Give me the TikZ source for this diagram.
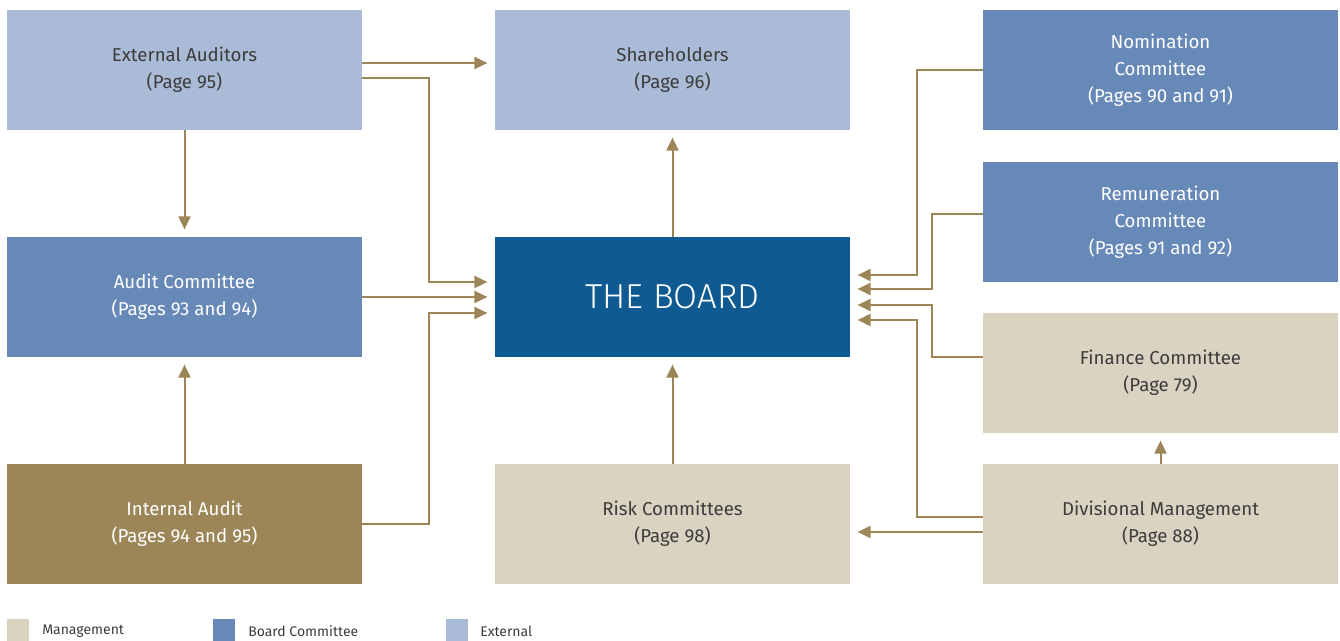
\documentclass[tikz,border=0pt]{standalone}
\usepackage{fontspec}
\setmainfont{Fira Sans}
\newfontfamily\lightfont{Fira Sans Light}
\usepackage{tikz}
\usepackage{xcolor}
\usetikzlibrary{arrows.meta, positioning, calc}
\definecolor{cExternal}{HTML}{A9BBD6}
\definecolor{cCommittee}{HTML}{6689B8}
\definecolor{cBoard}{HTML}{0F5A92}
\definecolor{cMgmt}{HTML}{DAD3C1}
\definecolor{cAudit}{HTML}{9C8658}
\definecolor{cText}{HTML}{3C3C3C}
\tikzset{
	unitbox/.style   ={rectangle, minimum width=266.25pt, minimum height=90pt, text centered, align=center, inner sep=0pt, font=\fontsize{14}{20.25}\selectfont},
	extbox/.style    ={unitbox, fill=cExternal, text=cText},
	combox/.style    ={unitbox, fill=cCommittee, text=white},
	boardbox/.style  ={unitbox, fill=cBoard, text=white, font=\lightfont\fontsize{26}{30}\selectfont},
	mgmtbox/.style   ={unitbox, fill=cMgmt, text=cText},
	auditbox/.style  ={unitbox, fill=cAudit, text=white},
	flowarrow/.style ={-{Triangle[length=9.75pt, width=9pt]}, line width=1.5pt, draw=cAudit, shorten >=5.5pt},
	% legend helpers
	keybox/.style    ={rectangle, minimum size=16.5pt, inner sep=0pt},
	keytext/.style   ={anchor=west, inner sep=0pt, text=cText, font=\fontsize{10.5}{12}\selectfont},
}
\begin{document}
\begin{tikzpicture}[x=0.75pt, y=-0.75pt]
	\useasboundingbox (0,0) rectangle (1340,641);
	% left column
	\node[extbox]   (ext)   at (184.5,70)  {External Auditors\\(Page 95)};
	\node[combox]   (aud)   at (184.5,297) {Audit Committee\\(Pages 93 and 94)};
	\node[auditbox] (ia)    at (184.5,524) {Internal Audit\\(Pages 94 and 95)};
	% middle column
	\node[extbox]   (sh)    at (672.5,70)  {Shareholders\\(Page 96)};
	\node[boardbox] (board) at (672.5,297) {THE BOARD};
	\node[mgmtbox]  (risk)  at (672.5,524) {Risk Committees\\(Page 98)};
	% right column
	\node[combox]   (nom)   at (1160.5,70)  {Nomination\\Committee\\(Pages 90 and 91)};
	\node[combox]   (rem)   at (1160.5,222) {Remuneration\\Committee\\(Pages 91 and 92)};
	\node[mgmtbox]  (fin)   at (1160.5,373) {Finance Committee\\(Page 79)};
	\node[mgmtbox]  (div)   at (1160.5,524) {Divisional Management\\(Page 88)};

	% bend columns
	\coordinate (lbend) at (429,0);
	\coordinate (rbendA) at (917,0);
	\coordinate (rbendB) at (932,0);

	% arrows on the left
	\draw[flowarrow] (ext.east |- 0,63) -- (sh.west |- 0,63);
	\draw[flowarrow] (ext.south) -- (aud.north);
	\draw[flowarrow] (ext.east |- 0,78) -- (lbend |- 0,78) -- (lbend |- 0,282) -- (board.west |- 0,282);
	\draw[flowarrow] (aud.east) -- (board.west);
	\draw[flowarrow] (ia.east) -- (lbend |- ia.east) -- (lbend |- 0,313) -- (board.west |- 0,313);
	\draw[flowarrow] (ia.north) -- (aud.south);
	% arrows in the middle
	\draw[flowarrow] (board.north) -- (sh.south);
	\draw[flowarrow] (risk.north) -- (board.south);
	% arrows on the right
	\draw[flowarrow] (nom.west) -- (rbendA |- nom.west) -- (rbendA |- 0,275) -- (board.east |- 0,275);
	\draw[flowarrow] (rem.west |- 0,214) -- (rbendB |- 0,214) -- (rbendB |- 0,289) -- (board.east |- 0,289);
	\draw[flowarrow] (fin.west |- 0,357) -- (rbendB |- 0,357) -- (rbendB |- 0,305) -- (board.east |- 0,305);
	\draw[flowarrow] (div.west |- 0,517) -- (rbendA |- 0,517) -- (rbendA |- 0,320) -- (board.east |- 0,320);
	\draw[flowarrow] (div.west |- 0,532) -- (risk.east |- 0,532);
	\draw[flowarrow] (div.north) -- (fin.south);

	% legend
	\node[keybox, fill=cMgmt]      (kMgmt) at (18,630)  {};
	\node[keytext] (tMgmt) at (42,631)  {Management};
	\node[keybox, fill=cCommittee] (kCom)  at (224,630) {};
	\node[keytext] (tCom)  at (248,631) {Board Committee};
	\node[keybox, fill=cExternal]  (kExt)  at (457,630) {};
	\node[keytext] (tExt)  at (480,631) {External};
\end{tikzpicture}
\end{document}
